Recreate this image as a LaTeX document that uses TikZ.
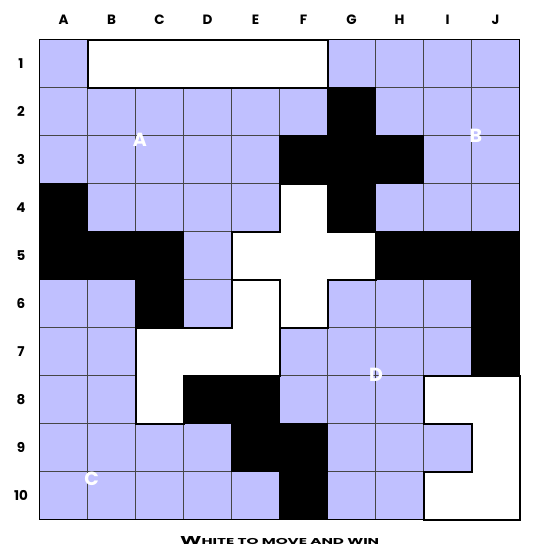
\documentclass[tikz,border=0pt]{standalone}
\usepackage{fontspec}
\setmainfont{Poppins}
\definecolor{cellblue}{RGB}{192,192,255}
\definecolor{gridgray}{RGB}{70,70,70}
\tikzset{
  bluecell/.style={fill=cellblue, draw=gridgray, line width=1.1pt},
  blackcell/.style={fill=black, draw=black, line width=0.3pt},
  regionline/.style={draw=black, line width=2pt, line join=miter},
  collabel/.style={font=\bfseries\fontsize{13.5}{14}\selectfont, text=black, inner sep=0pt},
  cellmark/.style={font=\bfseries\fontsize{19}{20}\selectfont, text=white, inner sep=0pt},
  caption/.style={inner sep=0pt, anchor=base west}
}
\begin{document}
\begin{tikzpicture}[x=1pt,y=-1pt]
\useasboundingbox (0,0) rectangle (550,550);
\fill[white] (0,0) rectangle (550,550);
% blue cells
\foreach \r/\cols in {1/{0,6,7,8,9}, 2/{0,1,2,3,4,5,7,8,9}, 3/{0,1,2,3,4,8,9}, 4/{1,2,3,4,7,8,9}, 5/{3}, 6/{0,1,3,6,7,8}, 7/{0,1,5,6,7,8}, 8/{0,1,5,6,7}, 9/{0,1,2,3,6,7,8}, 10/{0,1,2,3,4,6,7}}{
  \foreach \c in \cols {
    \path[bluecell] ({39.5+48*\c},{39.5+48*(\r-1)}) rectangle ++(48,48);
  }
}
% black cells
\foreach \r/\cols in {2/{6}, 3/{5,6,7}, 4/{0,6}, 5/{0,1,2,7,8,9}, 6/{2,9}, 7/{9}, 8/{3,4}, 9/{4,5}, 10/{5}}{
  \foreach \c in \cols {
    \path[blackcell] ({39.5+48*\c},{39.5+48*(\r-1)}) rectangle ++(48,48);
  }
}
% white regions
\draw[regionline] (87.5,39.5) rectangle (327.5,87.5);
\draw[regionline] (279.5,183.5) -- (327.5,183.5) -- (327.5,231.5) -- (375.5,231.5) -- (375.5,279.5) -- (327.5,279.5) -- (327.5,327.5) -- (279.5,327.5) -- (279.5,279.5) -- (231.5,279.5) -- (231.5,231.5) -- (279.5,231.5) -- cycle;
\draw[regionline] (231.5,279.5) -- (279.5,279.5) -- (279.5,375.5) -- (183.5,375.5) -- (183.5,423.5) -- (135.5,423.5) -- (135.5,327.5) -- (231.5,327.5) -- cycle;
\draw[regionline] (423.5,375.5) -- (519.5,375.5) -- (519.5,519.5) -- (423.5,519.5) -- (423.5,471.5) -- (471.5,471.5) -- (471.5,423.5) -- (423.5,423.5) -- cycle;
% outer border
\draw[black, line width=1.2pt] (39.5,39.5) rectangle (519.5,519.5);
% column labels
\foreach \c/\t in {0/A,1/B,2/C,3/D,4/E,5/F,6/G,7/H,8/I,9/J}{
  \node[collabel] (col\t) at ({63.5+48*\c},19.5) {\t};
}
% row labels
\foreach \r in {1,...,10}{
  \node[collabel] (row\r) at (21,{63.5+48*(\r-1)}) {\r};
}
% cell marks
\node[cellmark] (markA) at (140,140) {A};
\node[cellmark] (markB) at (476,135.5) {B};
\node[cellmark] (markC) at (91.5,479) {C};
\node[cellmark] (markD) at (376,375) {D};
% caption
\node[caption] (cap) at (180,544) {\resizebox{199pt}{8pt}{\bfseries\fontsize{11.5}{12}\selectfont W\fontsize{8.6}{9}\selectfont HITE TO MOVE AND WIN}};
\end{tikzpicture}
\end{document}
